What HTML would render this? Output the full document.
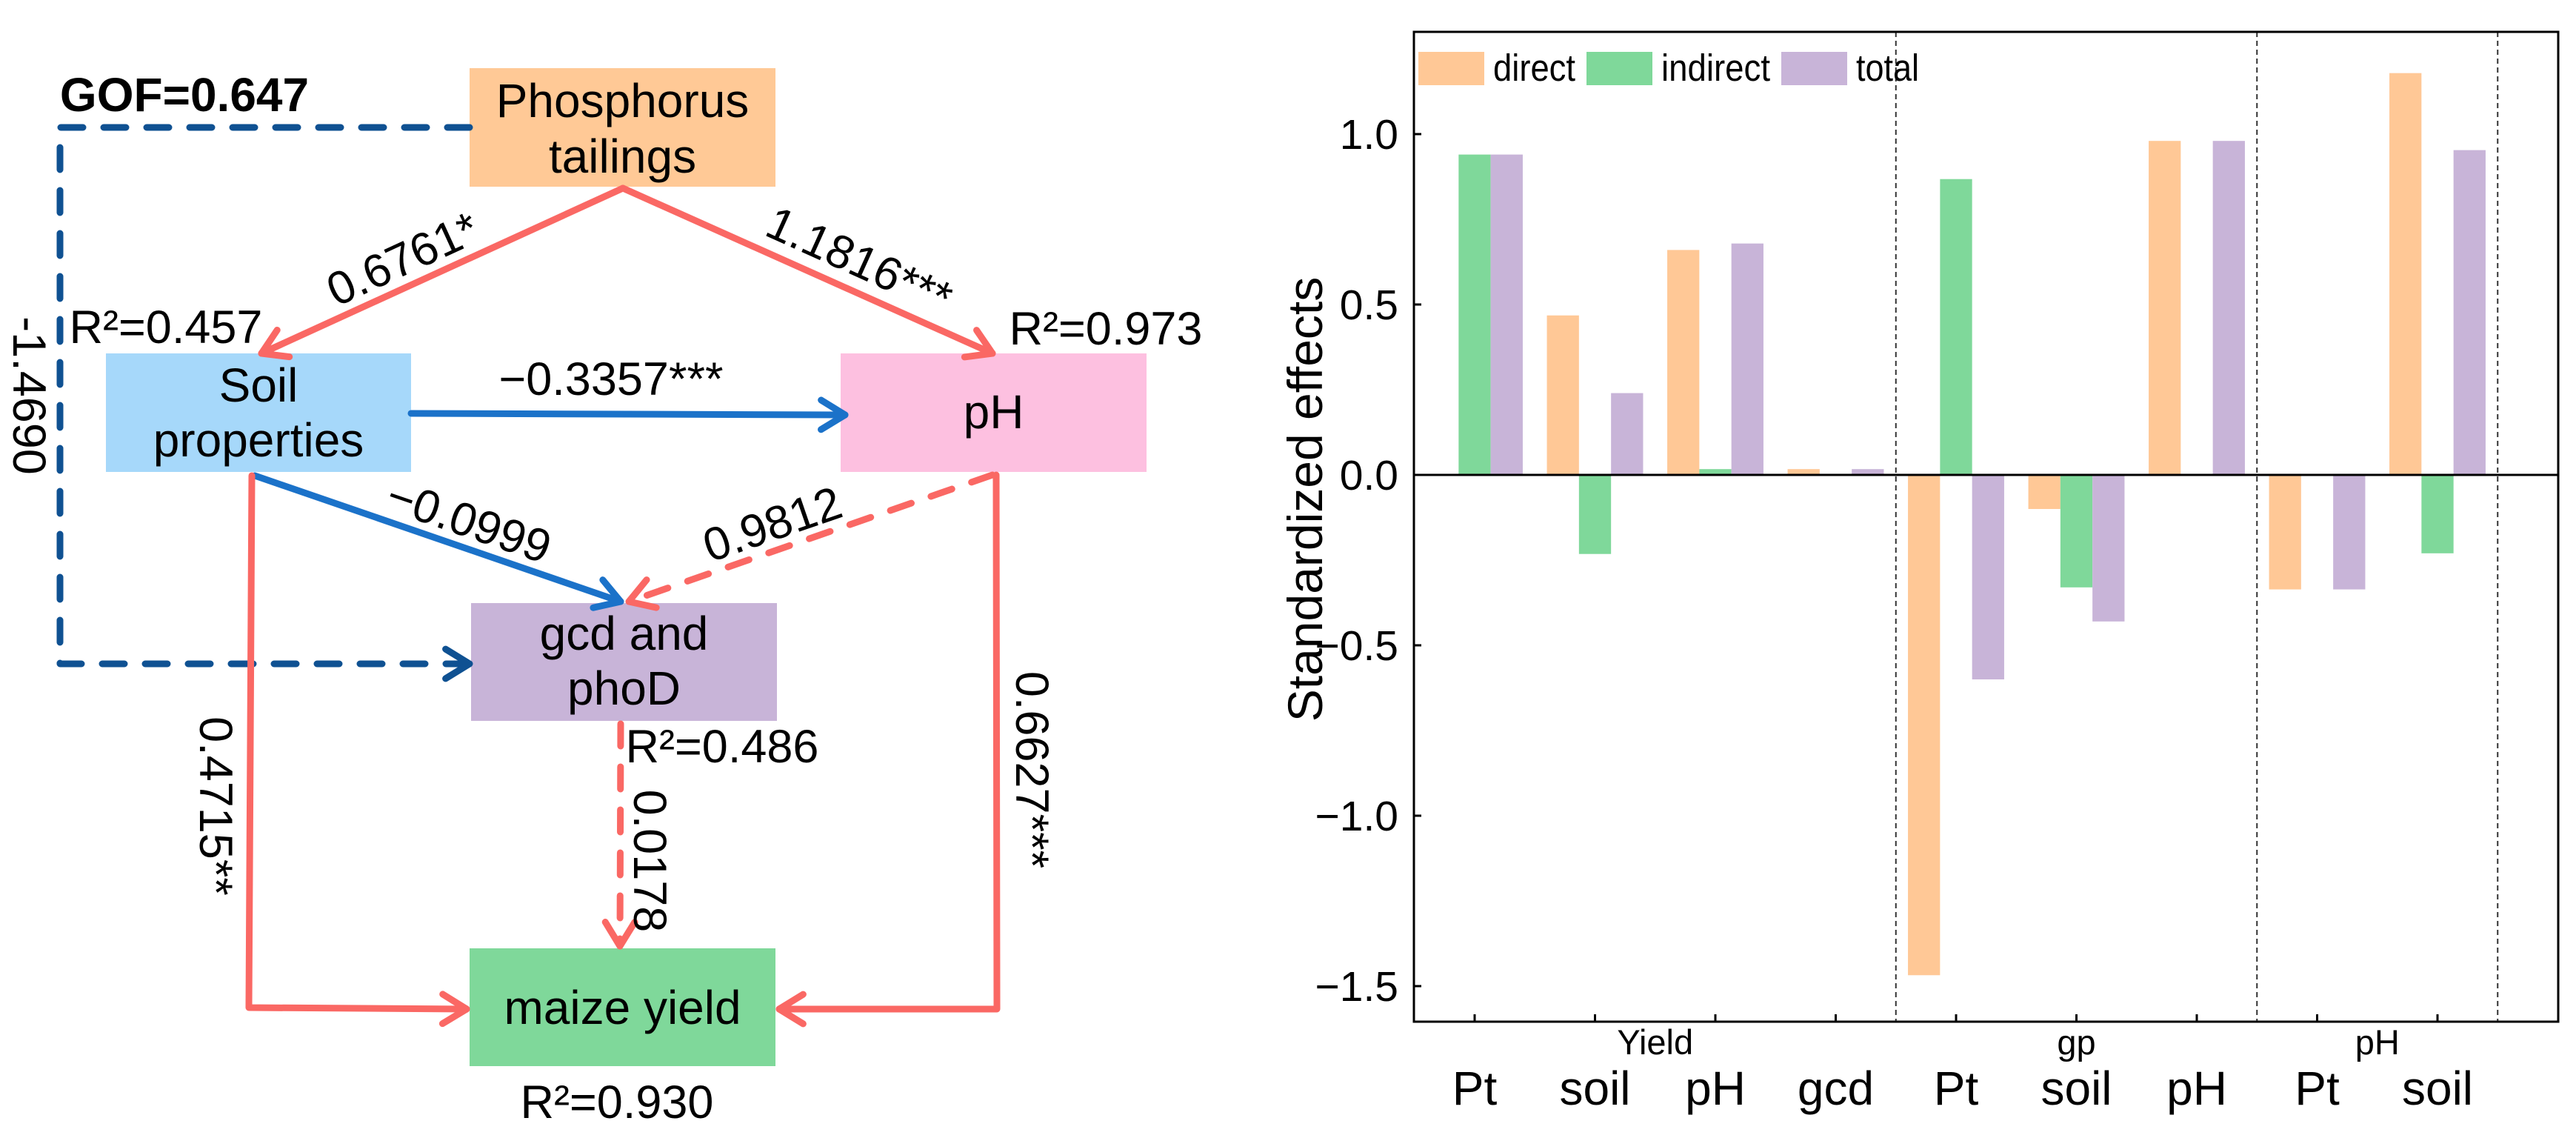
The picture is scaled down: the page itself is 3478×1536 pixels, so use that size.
<!DOCTYPE html>
<html><head><meta charset="utf-8"><style>
html,body{margin:0;padding:0;background:#fff}
svg{display:block;font-family:"Liberation Sans",Arial,sans-serif}
</style></head><body>
<svg id="svg" width="3478" height="1536" viewBox="0 0 3478 1536" xmlns="http://www.w3.org/2000/svg">
<g id="diagram"></g>
<g id="chart"></g>
</svg>
<script>
// ---------- Chart data ----------
const groups = ["Yield","gp","pH"];
const categories = ["Pt","soil","pH","gcd","Pt","soil","pH","Pt","soil"];
const groupOfCat = [0,0,0,0,1,1,1,2,2];
const directVals   = [0, 0.468, 0.66, 0.017, -1.468, -0.10, 0.98, -0.336, 1.179];
const indirectVals = [0.94, -0.232, 0.017, 0, 0.868, -0.33, 0, 0, -0.23];
const totalVals    = [0.94, 0.24, 0.679, 0.017, -0.60, -0.43, 0.98, -0.336, 0.953];
const yTicks = [1.0, 0.5, 0.0, -0.5, -1.0, -1.5];
const yTickLabels = ["1.0","0.5","0.0","\u22120.5","\u22121.0","\u22121.5"];
const seriesNames = ["direct","indirect","total"];

const NS="http://www.w3.org/2000/svg";
function mk(parent,tag,attrs,text){const e=document.createElementNS(NS,tag);for(const k in attrs)e.setAttribute(k,attrs[k]);if(text!==undefined)e.textContent=text;parent.appendChild(e);return e;}

// ---------- Chart ----------
const C=document.getElementById('chart');
const L=1909,R=3454,T=43,B=1379;
const yScale=v=>641-v*460;
const xScale=i=>1991+i*162.5;
const colors=["#FFC896","#7FD89A","#C8B4D8"];
const series=[directVals,indirectVals,totalVals];
const bw=43.3;
series.forEach((vals,s)=>{
  vals.forEach((v,i)=>{
    if(v===0)return;
    const x=xScale(i)+(s-1)*bw-bw/2;
    const y0=yScale(0),y1=yScale(v);
    const r=mk(C,'rect',{x:x,y:Math.min(y0,y1),width:bw,height:Math.abs(y1-y0),fill:colors[s]});
    
    
  });
});
// separators
[3.5,6.5,8.5].forEach(p=>{
  const l=mk(C,'line',{x1:xScale(p),x2:xScale(p),y1:T,y2:B,stroke:'#333','stroke-width':2,'stroke-dasharray':'7,5'});
  
  
});
// zero line
const zl=mk(C,'line',{x1:L,x2:R,y1:yScale(0),y2:yScale(0),stroke:'#000','stroke-width':3});


// frame
const fr=mk(C,'rect',{x:L,y:T,width:R-L,height:B-T,fill:'none',stroke:'#000','stroke-width':3});


// y ticks
yTicks.forEach((t,i)=>{
  const y=yScale(t);
  const tk=mk(C,'line',{x1:L,x2:L+10,y1:y,y2:y,stroke:'#000','stroke-width':3});
  
  
  const tl=mk(C,'text',{x:1888,y:y+20,'font-size':57,'text-anchor':'end'},yTickLabels[i]);
  
  
});
// x ticks & labels
categories.forEach((c,i)=>{
  const x=xScale(i);
  const tk=mk(C,'line',{x1:x,x2:x,y1:B,y2:B-10,stroke:'#000','stroke-width':3});
  
  
  const tl=mk(C,'text',{x:x,y:1491,'font-size':64,'text-anchor':'middle'},c);
  
  
});
const groupSpan=[[0,3],[4,6],[7,8]];
groups.forEach((g,gi)=>{
  const x=(xScale(groupSpan[gi][0])+xScale(groupSpan[gi][1]))/2;
  const gl=mk(C,'text',{x:x,y:1423,'font-size':47,'text-anchor':'middle'},g);
  
  
});
const yt=mk(C,'text',{x:1785,y:674,'font-size':66,'text-anchor':'middle',transform:'rotate(-90 1785 674)'},'Standardized effects');


// legend
const legX=[1915,2142,2405];
const legW=[111,147,85];
seriesNames.forEach((n,s)=>{
  const sw=mk(C,'rect',{x:legX[s],y:70,width:89,height:45,fill:colors[s]});
  
  
  const lt=mk(C,'text',{x:legX[s]+101,y:109,'font-size':51,textLength:legW[s],lengthAdjust:'spacingAndGlyphs'},n);
  
  
});

// ---------- Diagram ----------
const D=document.getElementById('diagram');
const RED="#FA6864",BLUE="#1B72C9",DBLUE="#0F5192";
function box(x,y,w,h,fill,lines,base,name){
  const g=mk(D,'g',{});
  
  
  mk(g,'rect',{x:x,y:y,width:w,height:h,fill:fill});
  lines.forEach((t,i)=>mk(g,'text',{x:x+w/2,y:base[i],'font-size':64,'text-anchor':'middle'},t));
}
box(634,92,413,160,'#FFC996',['Phosphorus','tailings'],[158,233],'node-phosphorus-tailings');
box(143,477,412,160,'#A6D8FA',['Soil','properties'],[542,616],'node-soil-properties');
box(1135,477,413,160,'#FDC0E0',['pH'],[578],'node-ph');
box(636,814,413,159,'#C8B4D8',['gcd and','phoD'],[877,951],'node-gcd-phod');
box(634,1280,413,159,'#7FD89A',['maize yield'],[1382],'node-maize-yield');

function arrow(pts,color,dashed,name){
  const g=mk(D,'g',{});
  
  
  const d='M'+pts.map(p=>p.join(',')).join(' L');
  const a={d:d,fill:'none',stroke:color,'stroke-width':9,'stroke-linecap':'round','stroke-linejoin':'round'};
  if(dashed)a['stroke-dasharray']='30,28';
  mk(g,'path',a);
  const p1=pts[pts.length-2],p2=pts[pts.length-1];
  const ang=Math.atan2(p2[1]-p1[1],p2[0]-p1[0]);
  const len=38,sp=0.55;
  const a1=[p2[0]-len*Math.cos(ang-sp),p2[1]-len*Math.sin(ang-sp)];
  const a2=[p2[0]-len*Math.cos(ang+sp),p2[1]-len*Math.sin(ang+sp)];
  mk(g,'path',{d:`M${a1} L${p2} L${a2}`,fill:'none',stroke:color,'stroke-width':9,'stroke-linecap':'round','stroke-linejoin':'round'});
}
arrow([[634,172],[81,172],[81,896],[634,896]],DBLUE,true,'edge-phosphorus-to-gcd');
arrow([[841,254],[353,477]],RED,false,'edge-phosphorus-to-soil');
arrow([[841,254],[1340,477]],RED,false,'edge-phosphorus-to-ph');
arrow([[555,558],[1141,560]],BLUE,false,'edge-soil-to-ph');
arrow([[344,642],[838,812]],BLUE,false,'edge-soil-to-gcd');
arrow([[1340,641],[849,812]],RED,true,'edge-ph-to-gcd');
arrow([[340,642],[336,1360],[630,1362]],RED,false,'edge-soil-to-maize');
arrow([[1345,641],[1346,1362],[1052,1362]],RED,false,'edge-ph-to-maize');
arrow([[838,977],[837,1277]],RED,true,'edge-gcd-to-maize');

function label(t,x,y,rot,name,size,bold){
  const a={x:x,y:y,'font-size':size||63,'text-anchor':'middle','dominant-baseline':'central'};
  if(rot)a.transform=`rotate(${rot} ${x} ${y})`;
  if(bold)a['font-weight']='bold';
  const e=mk(D,'text',a,t);
  
  
}
label('GOF=0.647',249,128,0,'gof-label',64,true);
label('R\u00b2=0.457',224,442,0,'r2-soil');
label('R\u00b2=0.973',1493,444,0,'r2-ph');
label('R\u00b2=0.486',975,1008,0,'r2-gcd');
label('R\u00b2=0.930',833,1488,0,'r2-maize');
label('0.6761*',544,350,-24.7,'coef-phosphorus-soil');
label('1.1816***',1160,352,24.3,'coef-phosphorus-ph');
label('\u22120.3357***',825,512,0,'coef-soil-ph');
label('\u22120.0999',633,704,19,'coef-soil-gcd');
label('0.9812',1043,708,-19,'coef-ph-gcd');
label('-1.4690',39,534,90,'coef-phosphorus-gcd');
label('0.4715**',291,1088,90,'coef-soil-maize');
label('0.0178',877,1162,90,'coef-gcd-maize');
label('0.6627***',1393,1039,90,'coef-ph-maize');
</script>
</body></html>
